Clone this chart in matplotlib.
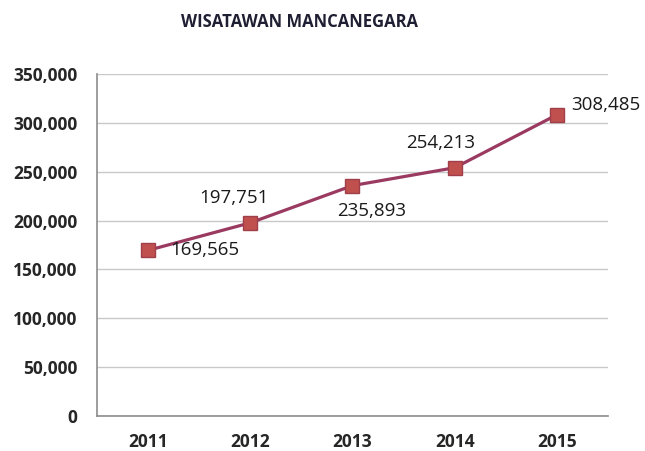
import matplotlib.pyplot as plt
from matplotlib.ticker import FuncFormatter

years = ["2011", "2012", "2013", "2014", "2015"]
visitors = [169565, 197751, 235893, 254213, 308485]
# label offsets in points (dx, dy)
label_offsets = [(16, 0), (-12, 18), (14, -18), (-10, 18), (10, 7)]
label_ha = ["left", "center", "center", "center", "left"]

plt.rcParams["font.family"] = ["Open Sans", "DejaVu Sans"]

fig = plt.figure(figsize=(6.45, 4.51), dpi=100)
ax = fig.add_axes([0.150, 0.0776, 0.793, 0.758])

x = list(range(len(years)))
ax.plot(x, visitors, color="#9B3A60", linewidth=2.3, marker="s",
        markersize=10, markerfacecolor="#C0504D", markeredgecolor="#A03F4A",
        zorder=3)

for i, v in enumerate(visitors):
    dx, dy = label_offsets[i]
    ax.annotate(f"{v:,}", (i, v), xytext=(dx, dy), textcoords="offset points",
                ha=label_ha[i], va="center", fontsize=13.5, color="#1a1a1a")

ax.set_xlim(-0.5, len(years) - 0.5)
ax.set_ylim(0, 350000)
ax.set_yticks(range(0, 350001, 50000))
ax.yaxis.set_major_formatter(FuncFormatter(lambda v, p: f"{int(v):,}"))
ax.set_xticks(x)
ax.set_xticklabels(years)

for lbl in ax.get_xticklabels() + ax.get_yticklabels():
    lbl.set_fontweight("bold")
    lbl.set_fontsize(12.5)
    lbl.set_color("#262626")

ax.tick_params(axis="x", length=0, pad=12)
ax.tick_params(axis="y", length=0, pad=14)
ax.grid(axis="y", color="#c8c8c8", linewidth=1)
ax.set_axisbelow(True)
for s in ["top", "right"]:
    ax.spines[s].set_visible(False)
for s in ["left", "bottom"]:
    ax.spines[s].set_color("#8c8c8c")
    ax.spines[s].set_linewidth(1.2)

fig.text(0.465, 0.952, "WISATAWAN MANCANEGARA", ha="center", va="center",
         fontsize=12, fontweight="bold", color="#1f1f33")

fig.savefig("out.png", dpi=100)
plt.close(fig)
